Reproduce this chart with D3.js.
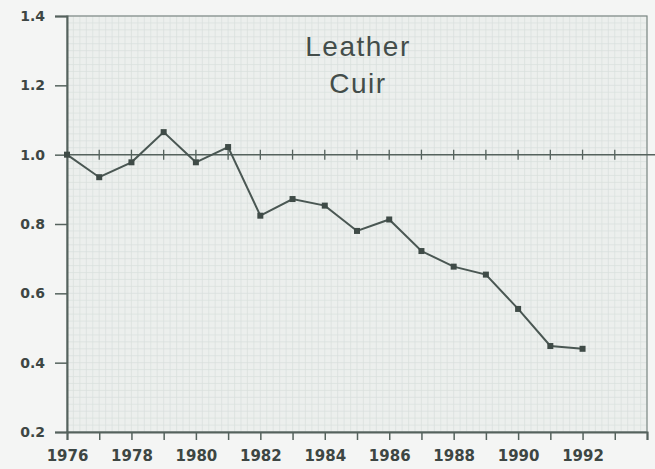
<!DOCTYPE html>
<html>
<head>
<meta charset="utf-8">
<script src="https://cdn.jsdelivr.net/npm/d3@7"></script>
<style>
  body { margin: 0; background: #f4f5f4; }
  svg { display: block; }
</style>
</head>
<body>
<div id="chart"></div>
<script>
var years = [1976, 1977, 1978, 1979, 1980, 1981, 1982, 1983, 1984, 1985, 1986, 1987, 1988, 1989, 1990, 1991, 1992];
var values = [1.0, 0.935, 0.978, 1.065, 0.978, 1.022, 0.824, 0.872, 0.853, 0.78, 0.813, 0.722, 0.677, 0.654, 0.555, 0.448, 0.44];
var yTicks = [0.2, 0.4, 0.6, 0.8, 1.0, 1.2, 1.4];
var xLabels = [1976, 1978, 1980, 1982, 1984, 1986, 1988, 1990, 1992];
var titleLines = ["Leather", "Cuir"];

var width = 655, height = 469;
var margin = { top: 16, right: 8, bottom: 37, left: 67 };

var svg = d3.select("#chart")
    .append("svg")
    .attr("width", width)
    .attr("height", height);

var x = d3.scaleLinear().domain([1976, 1994]).range([margin.left, width - margin.right]);
var y = d3.scaleLinear().domain([0.2, 1.4]).range([height - margin.bottom, margin.top]);

var ink = "#55625d";

// plot background, graph-paper look
svg.append("rect")
    .attr("x", x(1976)).attr("y", y(1.4))
    .attr("width", x(1994) - x(1976))
    .attr("height", y(0.2) - y(1.4))
    .attr("fill", "#ecefed");

var grid = svg.append("g");
grid.selectAll(".gx")
    .data(d3.range(1976, 1994.01, 0.2))
    .enter().append("line")
    .attr("x1", function (d) { return x(d); })
    .attr("x2", function (d) { return x(d); })
    .attr("y1", y(1.4)).attr("y2", y(0.2))
    .attr("stroke", "#d9dfdc").attr("stroke-width", 0.7);
grid.selectAll(".gy")
    .data(d3.range(0.2, 1.401, 0.02))
    .enter().append("line")
    .attr("y1", function (d) { return y(d); })
    .attr("y2", function (d) { return y(d); })
    .attr("x1", x(1976)).attr("x2", x(1994))
    .attr("stroke", "#d9dfdc").attr("stroke-width", 0.7);

// frame
svg.append("rect")
    .attr("x", x(1976)).attr("y", y(1.4))
    .attr("width", x(1994) - x(1976))
    .attr("height", y(0.2) - y(1.4))
    .attr("fill", "none")
    .attr("stroke", "#7d8985").attr("stroke-width", 1.2);

// left axis
var yAxis = d3.axisLeft(y).tickValues(yTicks).tickSize(12).tickPadding(10)
    .tickFormat(d3.format(".1f"));
var gy = svg.append("g").attr("transform", "translate(" + x(1976) + ",0)").call(yAxis);
gy.select(".domain").attr("stroke", ink).attr("stroke-width", 2);
gy.selectAll(".tick line").attr("stroke", ink).attr("stroke-width", 1.5);
gy.selectAll(".tick text")
    .attr("fill", "#3d4643")
    .style("font", "bold 14px 'DejaVu Sans', sans-serif");

// bottom axis
var xAxis = d3.axisBottom(x).tickValues(d3.range(1976, 1995)).tickSize(8).tickPadding(10)
    .tickFormat(function (d) { return xLabels.indexOf(d) >= 0 ? d : ""; });
var gx = svg.append("g").attr("transform", "translate(0," + y(0.2) + ")").call(xAxis);
gx.select(".domain").attr("stroke", ink).attr("stroke-width", 2);
gx.selectAll(".tick line").attr("stroke", ink).attr("stroke-width", 1.5);
gx.selectAll(".tick text")
    .attr("fill", "#3d4643")
    .style("font", "bold 15px 'DejaVu Sans', sans-serif");

// reference line at 1.0 with yearly marks
svg.append("line")
    .attr("x1", x(1976)).attr("x2", width)
    .attr("y1", y(1.0)).attr("y2", y(1.0))
    .attr("stroke", ink).attr("stroke-width", 1.5);
svg.selectAll(".ref-tick")
    .data(d3.range(1977, 1994))
    .enter().append("line")
    .attr("x1", function (d) { return x(d); })
    .attr("x2", function (d) { return x(d); })
    .attr("y1", y(1.0) - 5).attr("y2", y(1.0) + 5)
    .attr("stroke", ink).attr("stroke-width", 1.3);

// series
var line = d3.line()
    .x(function (d, i) { return x(years[i]); })
    .y(function (d) { return y(d); });

svg.append("path")
    .datum(values)
    .attr("d", line)
    .attr("fill", "none")
    .attr("stroke", "#4a5753")
    .attr("stroke-width", 2);

svg.selectAll(".pt")
    .data(values)
    .enter().append("rect")
    .attr("x", function (d, i) { return x(years[i]) - 3; })
    .attr("y", function (d) { return y(d) - 3; })
    .attr("width", 6).attr("height", 6)
    .attr("fill", "#3f4b47");

// title
svg.selectAll(".title")
    .data(titleLines)
    .enter().append("text")
    .attr("x", 358)
    .attr("y", function (d, i) { return 56 + i * 37; })
    .attr("text-anchor", "middle")
    .attr("fill", "#434d4a")
    .style("font", "28px 'Liberation Sans', Arial, sans-serif")
    .style("letter-spacing", "1.5px")
    .text(function (d) { return d; });
</script>
</body>
</html>
